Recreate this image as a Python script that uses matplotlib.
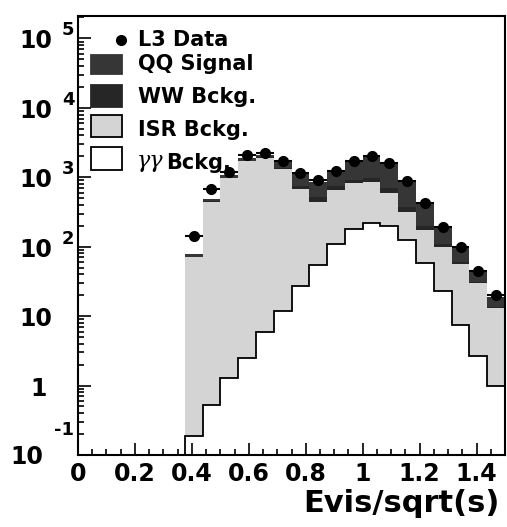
import numpy as np
import matplotlib
matplotlib.use("Agg")
import matplotlib.pyplot as plt
from matplotlib import transforms
from matplotlib.patches import Rectangle
from matplotlib.ticker import MultipleLocator, LogLocator, NullFormatter, FormatStrFormatter

# histogram bins in Evis/sqrt(s)
bin_edges = [0.375, 0.4375, 0.5, 0.5625, 0.625, 0.6875, 0.75, 0.8125, 0.875, 0.9375,
             1.0, 1.0625, 1.125, 1.1875, 1.25, 1.3125, 1.375, 1.4375, 1.5]

# stacked Monte Carlo contributions (events per bin), bottom to top
gg_bckg = [0.19, 0.52, 1.3, 2.5, 5.9, 12, 27, 54, 109, 177, 216, 200, 124, 58, 23, 7.4, 2.7, 1.0]
isr_bckg = [70, 444, 970, 1700, 1910, 1300, 646, 388, 542, 637, 633, 390, 190, 115, 76, 49, 27, 12]
ww_bckg = [0.5, 3, 8, 15, 20, 45, 70, 75, 90, 110, 120, 100, 55, 25, 10, 4, 1.5, 0.6]
qq_signal = [6.9, 35, 94, 145, 146, 313, 392, 342, 456, 743, 999, 906, 490, 212, 84, 37, 12.5, 5.4]

# L3 data
l3_data = [142, 667, 1200, 2080, 2250, 1700, 1170, 900, 1230, 1720, 1990, 1620, 880, 420, 190, 98, 44, 20]

x_ticks = [0, 0.2, 0.4, 0.6, 0.8, 1.0, 1.2, 1.4]
y_decades = [5, 4, 3, 2, 1, 0, -1]

QQ_COLOR = "#363636"
WW_COLOR = "#262626"
ISR_COLOR = "#d4d4d4"

plt.rcParams["font.family"] = ["DejaVu Sans"]
plt.rcParams["font.weight"] = "bold"

fig = plt.figure(figsize=(5.07, 5.27), dpi=100)
ax = fig.add_axes([78 / 507, 72 / 527, 427 / 507, 439 / 527])

edges = np.array(bin_edges)
gg = np.array(gg_bckg)
isr_top = gg + np.array(isr_bckg)
ww_top = isr_top + np.array(ww_bckg)
qq_top = ww_top + np.array(qq_signal)
base = np.full(len(gg), 1e-3)

ax.stairs(qq_top, edges, baseline=ww_top, fill=True, color=QQ_COLOR, lw=0)
ax.stairs(ww_top, edges, baseline=isr_top, fill=True, color=WW_COLOR, lw=0)
ax.stairs(isr_top, edges, baseline=gg, fill=True, color=ISR_COLOR, lw=0)
ax.stairs(gg, edges, baseline=base, fill=True, color="white", lw=0)
ax.stairs(gg, edges, baseline=1e-3, color="black", lw=1.3)

centers = (edges[:-1] + edges[1:]) / 2
half = (edges[1:] - edges[:-1]) / 2
ax.errorbar(centers, l3_data, xerr=half, fmt="o", color="black", ms=7,
            elinewidth=1.5, capsize=0, zorder=5)

ax.set_yscale("log")
ax.set_xlim(0, 1.5)
ax.set_ylim(0.1, 2.1e5)

ax.xaxis.set_major_locator(MultipleLocator(0.2))
ax.xaxis.set_minor_locator(MultipleLocator(0.05))
ax.set_xticks(x_ticks)
ax.xaxis.set_major_formatter(FormatStrFormatter("%g"))
ax.yaxis.set_major_locator(LogLocator(base=10))
ax.yaxis.set_minor_locator(LogLocator(base=10, subs=np.arange(2, 10)))
ax.yaxis.set_major_formatter(NullFormatter())
ax.yaxis.set_minor_formatter(NullFormatter())
ax.tick_params(which="both", direction="in", top=False, right=False, width=1.2)
ax.tick_params(which="major", length=9)
ax.tick_params(which="minor", length=4.5)
ax.tick_params(axis="x", labelsize=17, pad=5)
for lab in ax.get_xticklabels():
    lab.set_fontweight("bold")
for sp in ax.spines.values():
    sp.set_linewidth(1.5)


def axx(px):
    return (px - 78) / 427


def ylab(x_px, yval, text, dy, size, ha):
    tr = transforms.blended_transform_factory(ax.transAxes, ax.transData)
    tr = transforms.offset_copy(tr, fig=fig, x=0, y=dy, units="dots")
    ax.text(axx(x_px), yval, text, transform=tr, ha=ha, va="center",
            fontsize=size, fontweight="bold", clip_on=False)


# y tick labels drawn as "10" plus raised exponent, the way the original shows them
for k in y_decades:
    v = 10.0 ** k
    if k >= 2:
        ylab(52, v, "10", -3, 17, "right")
        ylab(62, v, str(k), 8, 13, "left")
    elif k == 1:
        ylab(52, v, "10", -3, 17, "right")
    elif k == 0:
        ylab(47, v, "1", -3, 17, "right")
    else:
        ylab(43, v, "10", -2, 17, "right")
        ylab(54, v, str(k), 25, 13, "left")

fig.text(500 / 507, (527 - 512) / 527, "Evis/sqrt(s)", ha="right", va="baseline",
         fontsize=22, fontweight="bold")


# legend drawn by hand in axes coordinates
def axy(py):
    return (455 - py) / 439


ax.plot([axx(121)], [axy(40)], "o", color="black", ms=7, transform=ax.transAxes, clip_on=False)
boxes = [(55, 74, QQ_COLOR, QQ_COLOR), (85, 107, WW_COLOR, WW_COLOR),
         (115, 137, ISR_COLOR, "black"), (147, 170, "white", "black")]
for top, bot, fc, ec in boxes:
    ax.add_patch(Rectangle((axx(91), axy(bot)), axx(122) - axx(91), axy(top) - axy(bot),
                           transform=ax.transAxes, facecolor=fc, edgecolor=ec, lw=1.3))

legend_rows = [("L3 Data", 40), ("QQ Signal", 64), ("WW Bckg.", 97), ("ISR Bckg.", 130)]
for label, py in legend_rows:
    ax.text(axx(138), axy(py), label, transform=ax.transAxes, fontsize=15,
            fontweight="bold", va="center", ha="left")
ax.text(axx(137), axy(161), "γγ", transform=ax.transAxes, fontsize=16,
        family="DejaVu Serif", style="italic", fontweight="normal", va="center", ha="left")
ax.text(axx(166), axy(163), "Bckg.", transform=ax.transAxes, fontsize=15,
        fontweight="bold", va="center", ha="left")

fig.savefig("out.png", dpi=100)
